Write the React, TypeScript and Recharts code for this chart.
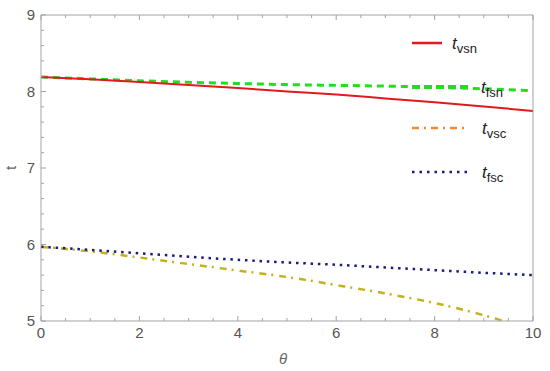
import { Line, LineChart, XAxis, YAxis } from 'recharts';

const thetas = [0, 1, 2, 3, 4, 5, 6, 7, 8, 9, 10];
const tVsn = [8.19, 8.16, 8.125, 8.085, 8.045, 8.0, 7.96, 7.91, 7.86, 7.805, 7.745];
const tFsn = [8.19, 8.165, 8.14, 8.12, 8.105, 8.09, 8.08, 8.07, 8.055, 8.035, 8.01];
const tVsc = [5.97, 5.91, 5.83, 5.745, 5.66, 5.575, 5.47, 5.36, 5.235, 5.075, 4.88];
const tFsc = [5.97, 5.93, 5.885, 5.84, 5.8, 5.765, 5.735, 5.7, 5.665, 5.63, 5.6];

const xTicks = [0, 0.5, 1, 1.5, 2, 2.5, 3, 3.5, 4, 4.5, 5, 5.5, 6, 6.5, 7, 7.5, 8, 8.5, 9, 9.5, 10];
const xMajor = [0, 2, 4, 6, 8, 10];
const yTicks = [5, 5.2, 5.4, 5.6, 5.8, 6, 6.2, 6.4, 6.6, 6.8, 7, 7.2, 7.4, 7.6, 7.8, 8, 8.2, 8.4, 8.6, 8.8, 9];
const yMajor = [5, 6, 7, 8, 9];

const data = thetas.map((x, i) => ({
  x,
  vsn: tVsn[i],
  fsn: tFsn[i],
  vsc: tVsc[i],
  fsc: tFsc[i],
}));

const frame = '#a3a3a3';
const label = '#555';
const font = '"Liberation Sans", Arial, sans-serif';

const isMajorX = (v: number) => xMajor.some((m) => Math.abs(m - v) < 1e-6);
const isMajorY = (v: number) => yMajor.some((m) => Math.abs(m - v) < 1e-6);

const BottomTick = (props: any) => {
  const { x, y, payload } = props;
  const major = isMajorX(payload.value);
  return (
    <g>
      <line x1={x} x2={x} y1={y} y2={y - (major ? 5 : 3)} stroke={frame} />
      {major && (
        <text x={x} y={y + 17} textAnchor="middle" fill={label} fontSize={15} fontFamily={font}>
          {payload.value}
        </text>
      )}
    </g>
  );
};

const TopTick = (props: any) => {
  const { x, y, payload } = props;
  const major = isMajorX(payload.value);
  return <line x1={x} x2={x} y1={y} y2={y + (major ? 5 : 3)} stroke={frame} />;
};

const LeftTick = (props: any) => {
  const { x, y, payload } = props;
  const major = isMajorY(payload.value);
  return (
    <g>
      <line x1={x} x2={x + (major ? 5 : 3)} y1={y} y2={y} stroke={frame} />
      {major && (
        <text x={x - 6} y={y + 5} textAnchor="end" fill={label} fontSize={15} fontFamily={font}>
          {payload.value}
        </text>
      )}
    </g>
  );
};

const RightTick = (props: any) => {
  const { x, y, payload } = props;
  const major = isMajorY(payload.value);
  return <line x1={x} x2={x - (major ? 5 : 3)} y1={y} y2={y} stroke={frame} />;
};

const legendItems = [
  { sub: 'vsn', color: '#e4191c', y: 43, x1: 412, x2: 442, tx: 452, props: { strokeWidth: 2.5 } },
  { sub: 'fsn', color: '#22dd22', y: 87, x1: 412, x2: 468, tx: 481, props: { strokeWidth: 4, strokeDasharray: '8 4' } },
  { sub: 'vsc', color: '#f28a2e', y: 128, x1: 412, x2: 468, tx: 482, props: { strokeWidth: 2.5, strokeDasharray: '7 5 2 5' } },
  { sub: 'fsc', color: '#1b1b7e', y: 172, x1: 412, x2: 468, tx: 482, props: { strokeWidth: 2.5, strokeDasharray: '2.5 5' } },
];

export default function App() {
  return (
    <div style={{ position: 'absolute', left: 0, top: 0, width: 550, height: 371, background: '#fff' }}>
      <LineChart width={550} height={371} data={data} margin={{ top: 14, right: 16, left: 0, bottom: 0 }}>
        <XAxis
          dataKey="x"
          type="number"
          domain={[0, 10]}
          ticks={xTicks}
          interval={0}
          height={50}
          tickSize={0}
          tickMargin={0}
          tickLine={false}
          axisLine={{ stroke: frame }}
          tick={<BottomTick />}
        />
        <XAxis
          xAxisId="top"
          orientation="top"
          dataKey="x"
          type="number"
          domain={[0, 10]}
          ticks={xTicks}
          interval={0}
          height={1}
          tickSize={0}
          tickMargin={0}
          tickLine={false}
          axisLine={{ stroke: frame }}
          tick={<TopTick />}
        />
        <YAxis
          type="number"
          domain={[5, 9]}
          ticks={yTicks}
          interval={0}
          width={41}
          allowDataOverflow
          tickSize={0}
          tickMargin={0}
          tickLine={false}
          axisLine={{ stroke: frame }}
          tick={<LeftTick />}
        />
        <YAxis
          yAxisId="right"
          orientation="right"
          type="number"
          domain={[5, 9]}
          ticks={yTicks}
          interval={0}
          width={1}
          tickSize={0}
          tickMargin={0}
          tickLine={false}
          axisLine={{ stroke: frame }}
          tick={<RightTick />}
        />
        <Line type="monotone" dataKey="fsn" stroke="#22dd22" strokeWidth={3} strokeDasharray="7 5" dot={false} isAnimationActive={false} />
        <Line type="monotone" dataKey="vsn" stroke="#e4191c" strokeWidth={2} dot={false} isAnimationActive={false} />
        <Line type="monotone" dataKey="vsc" stroke="#c2b31c" strokeWidth={2.5} strokeDasharray="7 5 2 6" dot={false} isAnimationActive={false} />
        <Line type="monotone" dataKey="fsc" stroke="#1b1b7e" strokeWidth={2.5} strokeDasharray="2.5 4.8" dot={false} isAnimationActive={false} />
      </LineChart>
      <svg width={550} height={371} style={{ position: 'absolute', left: 0, top: 0, pointerEvents: 'none' }}>
        {legendItems.map((it) => (
          <g key={it.sub}>
            <line x1={it.x1} x2={it.x2} y1={it.y} y2={it.y} stroke={it.color} {...it.props} />
            <text x={it.tx} y={it.y + 6} fontFamily={font} fill="#222">
              <tspan fontStyle="italic" fontSize={17}>t</tspan>
              <tspan fontSize={13} dy={4}>{it.sub}</tspan>
            </text>
          </g>
        ))}
        <text x={16} y={168} transform="rotate(-90 16 168)" textAnchor="middle" fill="#666" fontSize={15} fontFamily={font}>
          t
        </text>
        <text x={283} y={364} textAnchor="middle" fill="#666" fontSize={15} fontStyle="italic" fontFamily={font}>
          θ
        </text>
      </svg>
    </div>
  );
}
